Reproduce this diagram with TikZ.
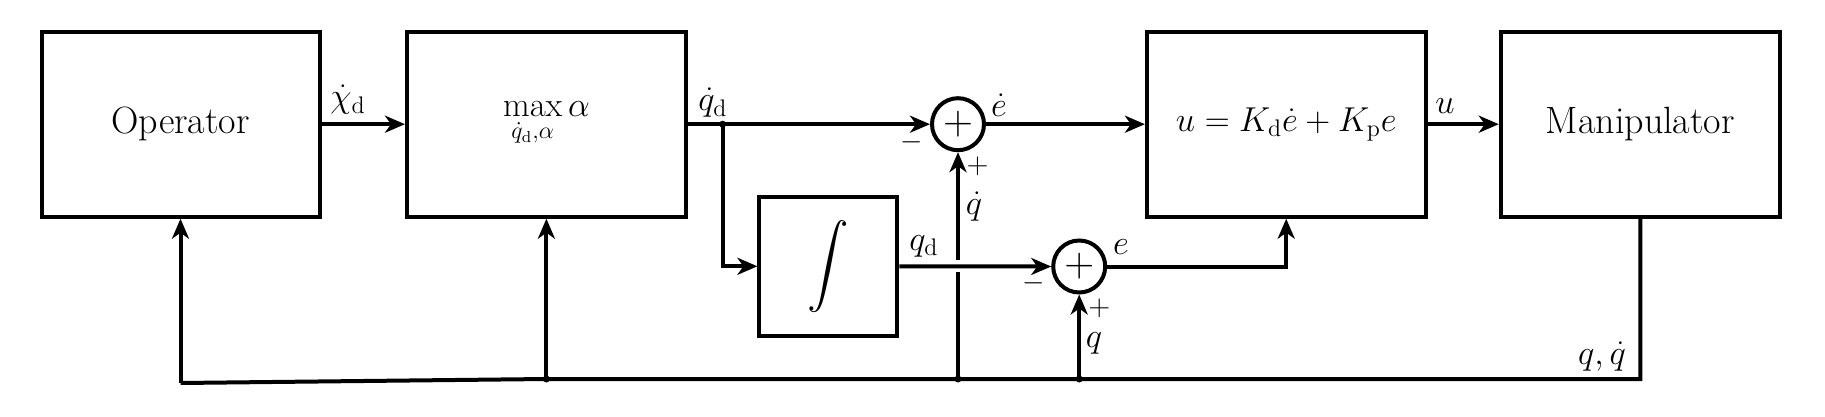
\documentclass[tikz,border=0pt]{standalone}
\usepackage{exscale}
\usetikzlibrary{arrows.meta}
\begin{document}
\begin{tikzpicture}[x=0.5pt,y=-0.5pt,
  line width=2pt,
  font=\fontsize{17}{20}\selectfont,
  blk/.style={draw, rectangle, line width=2pt, inner sep=0pt, minimum height=92.5pt},
  txt/.style={font=\fontsize{19}{22}\selectfont},
  sumnode/.style={draw, circle, line width=2pt, inner sep=0pt, minimum size=26pt,
     font=\fontsize{20}{22}\selectfont},
  arr/.style={-{Stealth[length=10pt,width=8.5pt,inset=3pt]}},
  lbl/.style={inner sep=0pt},
  sgn/.style={inner sep=0pt, font=\fontsize{15}{17}\selectfont},
  jdot/.style={circle, fill, inner sep=0pt, minimum size=3.5pt}]
\useasboundingbox (0,0) rectangle (1825,417);
% blocks
\node[blk, txt, minimum width=139pt] (op) at (180.5,124.2) {Operator};
\node[blk, minimum width=139.4pt] (mx) at (546.4,124.2) {$\displaystyle\max_{\dot q_{\mathrm d},\alpha}\alpha$};
\node[blk, minimum width=69pt, minimum height=69.6pt, font=\fontsize{21}{24}\selectfont] (integ) at (828.4,266.3) {$\displaystyle\int$};
\node[blk, minimum width=139.3pt] (ctrl) at (1286.2,124.2) {$u = K_{\mathrm d}\dot e + K_{\mathrm p} e$};
\node[blk, txt, minimum width=139.5pt] (man) at (1640.3,124.2) {Manipulator};
% summing junctions
\node[sumnode] (s1) at (958,124.2) {$+$};
\node[sumnode] (s2) at (1079.2,266.5) {$+$};
% coordinates
\coordinate (br) at (722.6,124.2);
\coordinate (fbR) at (1640.3,379);
\coordinate (j4) at (1079.2,379);
\coordinate (j3) at (958,379);
\coordinate (j2) at (546.4,379);
\coordinate (fbL) at (180.5,383);
\coordinate (gapB) at (958,272);
\coordinate (gapT) at (958,260);
% connectors
\draw[arr] (op.east) -- (mx.west);
\draw[arr] (mx.east) -- (s1.west);
\draw[arr] (br) |- (integ.west);
\draw[arr] (integ.east) -- (s2.west);
\draw[arr] (s1.east) -- (ctrl.west);
\draw[arr] (s2.east) -| (ctrl.south);
\draw[arr] (ctrl.east) -- (man.west);
\draw (man.south) -- (fbR) -- (j2) -- (fbL);
\draw[arr] (fbL) -- (op.south);
\draw[arr] (j2) -- (mx.south);
\draw (j3) -- (gapB);
\draw[arr] (gapT) -- (s1.south);
\draw[arr] (j4) -- (s2.south);
% junction dots
\node[jdot] (d1) at (br) {};
\node[jdot] (d2) at (j2) {};
\node[jdot] (d3) at (j3) {};
\node[jdot] (d4) at (j4) {};
% labels
\node[lbl] (l1) at (348,100) {$\dot\chi_{\mathrm d}$};
\node[lbl] (l2) at (713,103) {$\dot q_{\mathrm d}$};
\node[lbl] (l3) at (999,105) {$\dot e$};
\node[lbl] (l4) at (1445,106) {$u$};
\node[sgn] (m1) at (912,142) {$-$};
\node[sgn] (p1) at (977.6,166.7) {$+$};
\node[lbl] (l5) at (974,207) {$\dot q$};
\node[lbl] (l6) at (924,246) {$q_{\mathrm d}$};
\node[sgn] (m2) at (1034,283) {$-$};
\node[sgn] (p2) at (1099.4,308.3) {$+$};
\node[lbl] (l7) at (1121,247) {$e$};
\node[lbl] (l8) at (1094,343) {$q$};
\node[lbl] (l9) at (1602,357) {$q,\dot q$};
\end{tikzpicture}
\end{document}
